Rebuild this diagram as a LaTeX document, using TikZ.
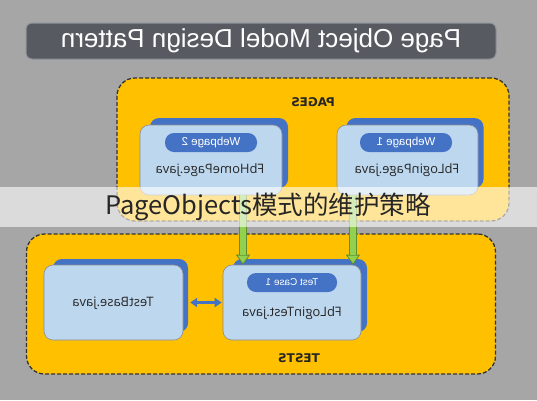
\documentclass[tikz,border=0pt]{standalone}
\usepackage{fontspec}
\usepackage{graphicx}
\setmainfont{Open Sans}
\newfontfamily\titlefont{Liberation Sans}
\newfontfamily\heavyfont{DejaVu Sans}
\newfontfamily\cjk{Noto Sans CJK SC}
\usetikzlibrary{arrows.meta,calc}
\definecolor{bggray}{HTML}{A6A6A6}
\definecolor{titlefill}{HTML}{575B61}
\definecolor{titleline}{HTML}{8E949C}
\definecolor{yel}{HTML}{FFC000}
\definecolor{frontblue}{HTML}{BDD7EE}
\definecolor{backblue}{HTML}{4472C4}
\definecolor{gfill}{HTML}{92D050}
\definecolor{gline}{HTML}{5E8F2A}
\definecolor{txt}{HTML}{262626}
\newcommand{\mir}[1]{\scalebox{-1}[1]{#1}}
\tikzset{
  container/.style={draw=black!80, fill=yel, line width=1.3pt, dash pattern=on 4pt off 2pt, rounded corners=18pt},
  backbox/.style={fill=backblue, draw=none, rounded corners=9pt},
  frontbox/.style={fill=frontblue, draw=black!45, line width=0.6pt, rounded corners=9pt},
  pill/.style={fill=backblue, draw=none, rounded corners=9pt, text=white, font=\titlefont\fontsize{11.5}{12}\selectfont, inner sep=0pt},
  fname/.style={text=txt, font=\fontsize{13}{14}\selectfont},
  ctitle/.style={text=black!85, font=\heavyfont\bfseries\fontsize{12}{13}\selectfont},
}
\begin{document}
\begin{tikzpicture}[x=1pt,y=-1pt]
\fill[bggray] (0,0) rectangle (537,400);
\useasboundingbox (0,0) rectangle (537,400);
% title
\node[fill=titlefill, draw=titleline, line width=1pt, rounded corners=6pt, minimum width=470pt, minimum height=36pt, text=white, font=\titlefont\fontsize{26}{27}\selectfont] (title) at (261,41) {\mir{Page Object Model Design Pattern}};
% containers
\node[container, minimum width=392pt, minimum height=143pt] (pages) at (313,149.5) {};
\node[ctitle] (pageslbl) at (313,102) {\mir{PAGES}};
\node[container, minimum width=469pt, minimum height=140pt] (tests) at (261,304) {};
\node[ctitle] (testslbl) at (299,358) {\mir{TESTS}};
% page boxes
\node[backbox, minimum width=138pt, minimum height=70pt] (wp2back) at (219,153) {};
\node[frontbox, minimum width=142pt, minimum height=70pt] (wp2) at (211,160) {};
\node[pill, minimum width=92pt, minimum height=19pt] (wp2pill) at (211,142.5) {\mir{Webpage 2}};
\node[fname] (wp2name) at (210,170) {\mir{FbHomePage.java}};
\node[backbox, minimum width=137pt, minimum height=70pt] (wp1back) at (415,153) {};
\node[frontbox, minimum width=141pt, minimum height=70pt] (wp1) at (407.5,160) {};
\node[pill, minimum width=92pt, minimum height=19pt] (wp1pill) at (406,142.5) {\mir{Webpage 1}};
\node[fname] (wp1name) at (407,170) {\mir{FbLoginPage.java}};
% test boxes
\node[backbox, minimum width=135pt, minimum height=73pt] (tbback) at (120.5,295.5) {};
\node[frontbox, minimum width=139pt, minimum height=75pt] (tb) at (113.5,302.5) {};
\node[fname] (tbname) at (113,303) {\mir{TestBase.java}};
\node[backbox, minimum width=134pt, minimum height=73pt] (ltback) at (300,295.5) {};
\node[frontbox, minimum width=138pt, minimum height=75pt] (lt) at (292,302.5) {};
\node[pill, minimum width=90pt, minimum height=19pt, font=\titlefont\fontsize{10}{11}\selectfont] (ltpill) at (292,282.5) {\mir{Test Case 1}};
\node[fname] (ltname) at (292,313) {\mir{FbLoginTest.java}};
% green arrows
\foreach \xx in {243,353}{
  \draw[gline, line width=7.5pt] (\xx,195) -- ($(lt.north -| \xx,0)+(0,-9)$);
  \draw[gline, line width=0.8pt, -{Triangle[width=14pt,length=10pt,fill=gfill,line width=0.8pt]}] (\xx,240) -- (lt.north -| \xx,0);
  \draw[gfill, line width=5.5pt] (\xx,195) -- ($(lt.north -| \xx,0)+(0,-9.5)$);
}
% double arrow
\draw[backblue, line width=3pt, {Triangle[width=9pt,length=7pt]}-{Triangle[width=9pt,length=7pt]}] (tbback.east |- tb.east) ++(2,0) -- ($(lt.west)+(-1,0)$);
% banner
\fill[white, opacity=0.6] (0,187) rectangle (537,227);
\node[text=black!85, font=\cjk\fontsize{25.5}{27}\selectfont, inner sep=0pt] (banner) at (268,207) {PageObjects模式的维护策略};
\end{tikzpicture}
\end{document}
